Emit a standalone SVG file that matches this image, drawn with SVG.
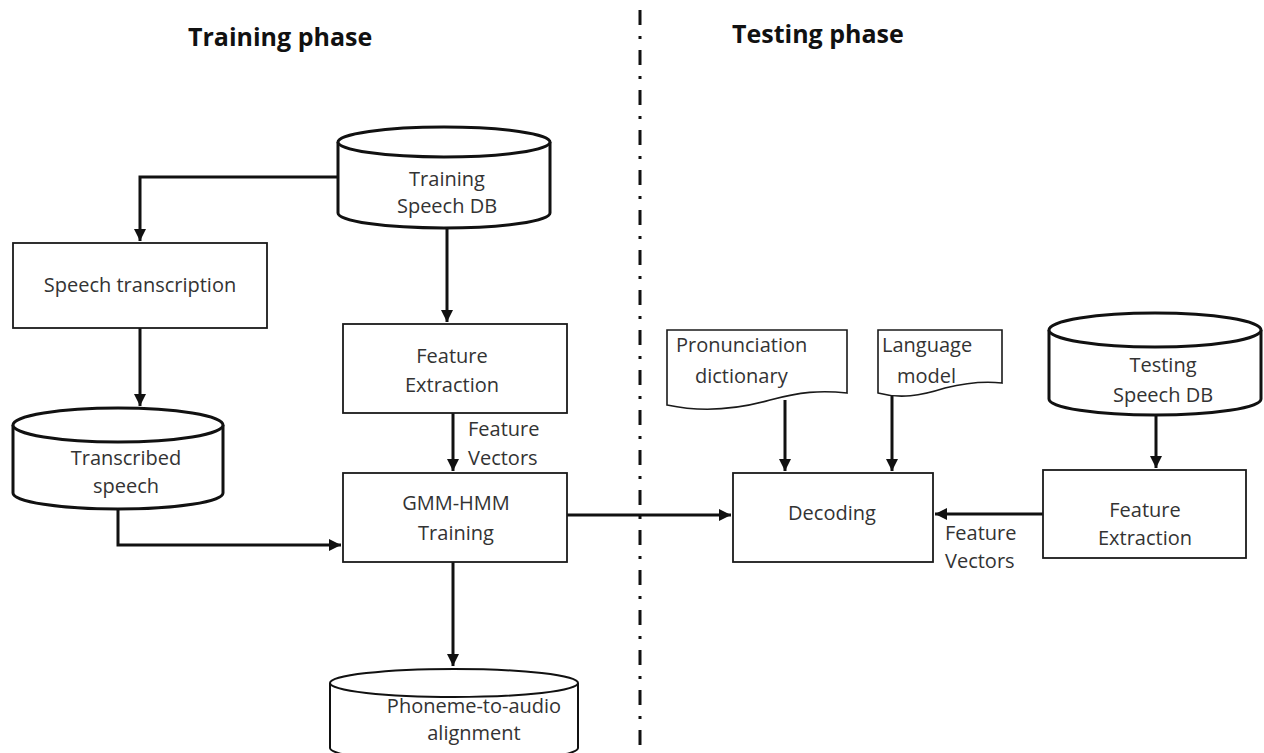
<svg xmlns="http://www.w3.org/2000/svg" width="1264" height="753" viewBox="0 0 1264 753">
  <style>
    .bg { fill: #ffffff; }
    .box { fill: #ffffff; stroke: #1a1a1a; stroke-width: 1.8; }
    .db { fill: #ffffff; stroke: #111111; stroke-width: 3; }
    .db-thin { fill: #ffffff; stroke: #111111; stroke-width: 2; }
    .doc { fill: #ffffff; stroke: #1a1a1a; stroke-width: 1.6; }
    .lbl { font-family: "Open Sans", "Liberation Sans", sans-serif; font-size: 20px; fill: #333333; }
    .mid { text-anchor: middle; }
    .title { font-family: "Open Sans", "Liberation Sans", sans-serif; font-size: 25px; font-weight: bold; fill: #111111; }
    .wire { fill: none; stroke: #111111; stroke-width: 3; }
    .divider { fill: none; stroke: #111111; stroke-width: 3; stroke-dasharray: 15 11 3 11; }
  </style>
  <defs>
    <marker id="arrow" viewBox="0 0 10 10" refX="10" refY="5" markerWidth="4" markerHeight="4" orient="auto" markerUnits="strokeWidth">
      <path d="M0,0 L10,5 L0,10 Z" fill="#111111"/>
    </marker>
  </defs>

  <rect class="bg" x="0" y="0" width="1264" height="753"/>

  <!-- phase headings and divider -->
  <text class="title" x="188" y="46">Training phase</text>
  <text class="title" x="732" y="43">Testing phase</text>
  <line class="divider" x1="640" y1="10" x2="640" y2="753"/>

  <!-- connectors -->
  <g id="connectors">
    <path class="wire" d="M338,177 H140 V241" marker-end="url(#arrow)"/>
    <path class="wire" d="M140,328 V406" marker-end="url(#arrow)"/>
    <path class="wire" d="M118,509 V545 H341" marker-end="url(#arrow)"/>
    <path class="wire" d="M447,228 V322" marker-end="url(#arrow)"/>
    <path class="wire" d="M453,413 V471" marker-end="url(#arrow)"/>
    <path class="wire" d="M453,562 V666" marker-end="url(#arrow)"/>
    <path class="wire" d="M567,515 H731" marker-end="url(#arrow)"/>
    <path class="wire" d="M1043,514 H935" marker-end="url(#arrow)"/>
    <path class="wire" d="M1156,415 V468" marker-end="url(#arrow)"/>
    <path class="wire" d="M785,400 V471" marker-end="url(#arrow)"/>
    <path class="wire" d="M892,392 V471" marker-end="url(#arrow)"/>
    <text class="lbl" x="468" y="436">Feature</text>
    <text class="lbl" x="468" y="465">Vectors</text>
    <text class="lbl" x="945" y="540">Feature</text>
    <text class="lbl" x="945" y="568">Vectors</text>
  </g>

  <!-- training phase -->
  <g id="training-db">
    <path class="db" d="M338,142 V213 A106,15 0 0 0 550,213 V142"/>
    <ellipse class="db" cx="444" cy="142" rx="106" ry="15"/>
    <text class="lbl mid" x="447" y="186">Training</text>
    <text class="lbl mid" x="447" y="213">Speech DB</text>
  </g>

  <g id="speech-transcription">
    <rect class="box" x="13" y="243" width="254" height="85"/>
    <text class="lbl mid" x="140" y="292">Speech transcription</text>
  </g>

  <g id="transcribed-speech">
    <path class="db" d="M13,425 V493 A105,16 0 0 0 223,493 V425"/>
    <ellipse class="db" cx="118" cy="425" rx="105" ry="17"/>
    <text class="lbl mid" x="126" y="465">Transcribed</text>
    <text class="lbl mid" x="126" y="493">speech</text>
  </g>

  <g id="feature-extraction-train">
    <rect class="box" x="343" y="324" width="224" height="89"/>
    <text class="lbl mid" x="452" y="363">Feature</text>
    <text class="lbl mid" x="452" y="392">Extraction</text>
  </g>

  <g id="gmm-hmm-training">
    <rect class="box" x="343" y="473" width="224" height="89"/>
    <text class="lbl mid" x="456" y="510">GMM-HMM</text>
    <text class="lbl mid" x="456" y="540">Training</text>
  </g>

  <g id="phoneme-alignment">
    <path class="db-thin" d="M330,683 V748 A124,14 0 0 0 578,748 V683"/>
    <ellipse class="db-thin" cx="454" cy="683" rx="124" ry="14"/>
    <text class="lbl mid" x="474" y="713">Phoneme-to-audio</text>
    <text class="lbl mid" x="474" y="740">alignment</text>
  </g>

  <!-- testing phase -->
  <g id="pronunciation-dictionary">
    <path class="doc" d="M667,405 V330 H847 V393 C820,390 800,392 770,400 C735,410 700,412 667,405 Z"/>
    <text class="lbl" x="676" y="352">Pronunciation</text>
    <text class="lbl" x="695" y="383">dictionary</text>
  </g>

  <g id="language-model">
    <path class="doc" d="M878,393 V330 H1002 V383 C985,381 965,383 945,388 C920,396 900,399 878,393 Z"/>
    <text class="lbl" x="882" y="352">Language</text>
    <text class="lbl" x="897" y="383">model</text>
  </g>

  <g id="decoding">
    <rect class="box" x="733" y="473" width="200" height="89"/>
    <text class="lbl mid" x="832" y="520">Decoding</text>
  </g>

  <g id="testing-db">
    <path class="db" d="M1049,330 V399 A106,16 0 0 0 1261,399 V330"/>
    <ellipse class="db" cx="1155" cy="330" rx="106" ry="17"/>
    <text class="lbl mid" x="1163" y="372">Testing</text>
    <text class="lbl mid" x="1163" y="402">Speech DB</text>
  </g>

  <g id="feature-extraction-test">
    <rect class="box" x="1043" y="470" width="203" height="88"/>
    <text class="lbl mid" x="1145" y="517">Feature</text>
    <text class="lbl mid" x="1145" y="545">Extraction</text>
  </g>
</svg>
